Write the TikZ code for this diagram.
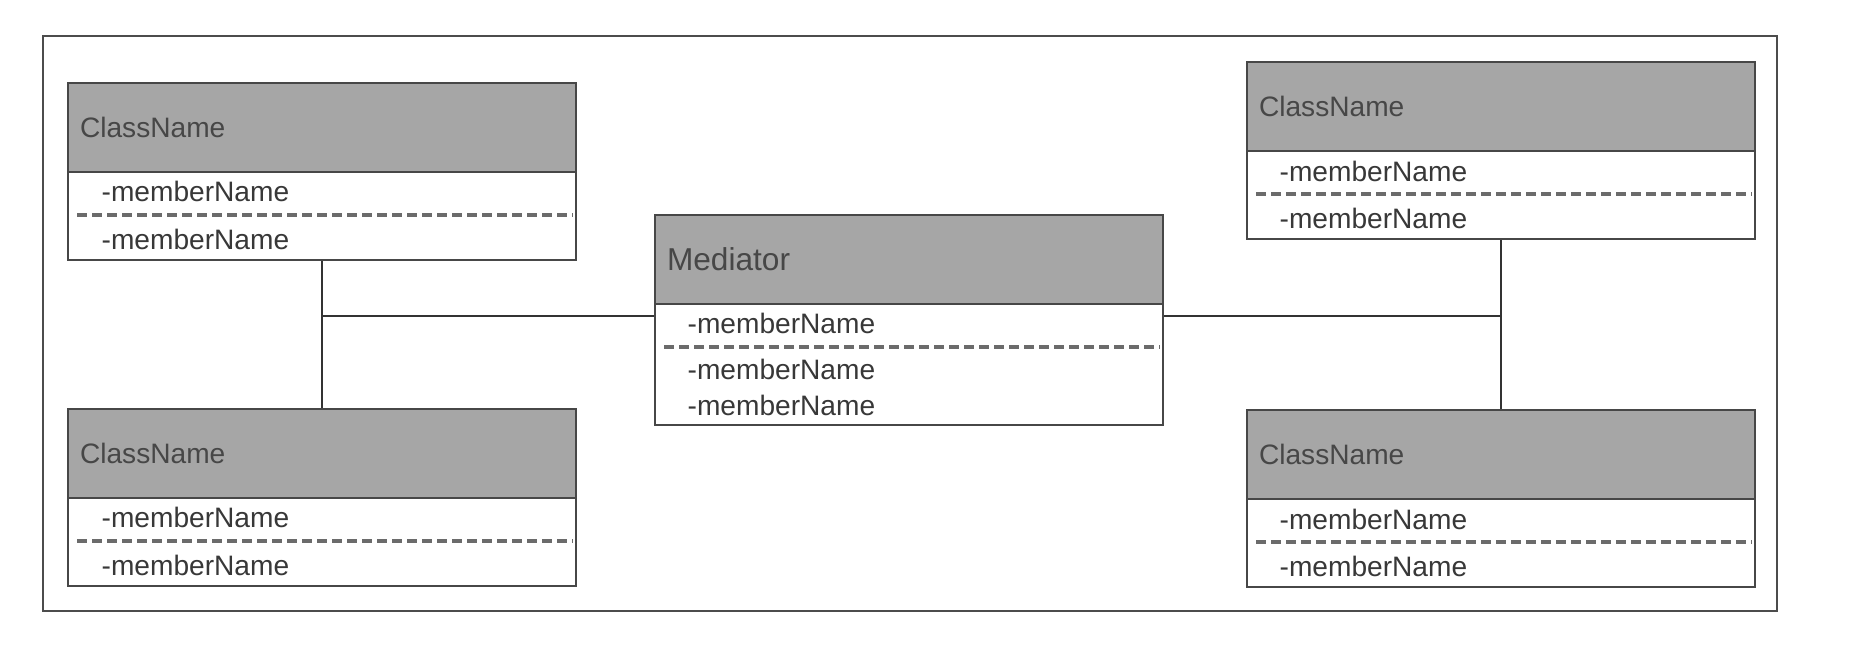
\documentclass[tikz,border=0pt]{standalone}
\usepackage{fontspec}
\setmainfont{Liberation Sans}
\usepackage{tikz}
\usetikzlibrary{positioning,calc}

\begin{document}
\begin{tikzpicture}[every node/.style={font=\fontsize{8}{9.6}\selectfont},
  head/.style={draw=black!72, fill=black!35, line width=0.6pt, anchor=north west,
               text width=4.84cm, inner xsep=0.12cm, inner ysep=0pt,
               minimum height=0.89cm, align=left, text=black!72},
  body/.style={draw=black!72, fill=white, line width=0.6pt, anchor=north west,
               minimum width=5.08cm, inner sep=0pt},
  member/.style={anchor=west, inner sep=0pt, text=black!78},
  sep/.style={dash pattern=on 0.1cm off 0.05cm, line width=1pt, black!58},
  link/.style={line width=0.5pt, black!80}]

  \useasboundingbox (0,0) rectangle (18.64,6.58);
  \draw[line width=0.6pt, black!70] (0.43,0.47) rectangle (17.77,6.22);

  %% ─── Left: two colleagues ──────────────────────────────────────────────
  \node[head]                        (tl_head) at (0.67,5.76) {ClassName};
  \node[body, minimum height=0.88cm] (tl_body) at (0.67,4.87) {};
  \node[member] (tl_m1) at (1.01,4.67) {-memberName};
  \node[member] (tl_m2) at (1.01,4.19) {-memberName};
  \draw[sep] ($(tl_body.north west)+(0.1,-0.44)$) -- ($(tl_body.north east)+(-0.05,-0.44)$);

  \node[head]                        (bl_head) at (0.67,2.50) {ClassName};
  \node[body, minimum height=0.88cm] (bl_body) at (0.67,1.61) {};
  \node[member] (bl_m1) at (1.01,1.41) {-memberName};
  \node[member] (bl_m2) at (1.01,0.93) {-memberName};
  \draw[sep] ($(bl_body.north west)+(0.1,-0.44)$) -- ($(bl_body.north east)+(-0.05,-0.44)$);

  %% ─── Middle: mediator ──────────────────────────────────────────────────
  \node[head, font=\fontsize{9}{10.8}\selectfont] (med_head) at (6.54,4.44) {Mediator};
  \node[body, minimum height=1.21cm] (med_body) at (6.54,3.55) {};
  \node[member] (med_m1) at (6.87,3.35) {-memberName};
  \node[member] (med_m2) at (6.87,2.89) {-memberName};
  \node[member] (med_m3) at (6.87,2.53) {-memberName};
  \draw[sep] ($(med_body.north west)+(0.1,-0.44)$) -- ($(med_body.north east)+(-0.05,-0.44)$);

  %% ─── Right: two colleagues ─────────────────────────────────────────────
  \node[head]                        (tr_head) at (12.46,5.97) {ClassName};
  \node[body, minimum height=0.88cm] (tr_body) at (12.46,5.08) {};
  \node[member] (tr_m1) at (12.79,4.87) {-memberName};
  \node[member] (tr_m2) at (12.79,4.40) {-memberName};
  \draw[sep] ($(tr_body.north west)+(0.1,-0.44)$) -- ($(tr_body.north east)+(-0.05,-0.44)$);

  \node[head]                        (br_head) at (12.46,2.49) {ClassName};
  \node[body, minimum height=0.88cm] (br_body) at (12.46,1.60) {};
  \node[member] (br_m1) at (12.79,1.39) {-memberName};
  \node[member] (br_m2) at (12.79,0.92) {-memberName};
  \draw[sep] ($(br_body.north west)+(0.1,-0.44)$) -- ($(br_body.north east)+(-0.05,-0.44)$);

  %% ─── Links ─────────────────────────────────────────────────────────────
  \coordinate (l_join) at (tl_body.south |- 0,3.42);
  \coordinate (r_join) at (tr_body.south |- 0,3.42);
  \draw[link] (tl_body.south) -- (bl_head.north);
  \draw[link] (l_join) -- (l_join -| med_body.west);
  \draw[link] (tr_body.south) -- (br_head.north);
  \draw[link] (r_join) -- (r_join -| med_body.east);
\end{tikzpicture}
\end{document}
